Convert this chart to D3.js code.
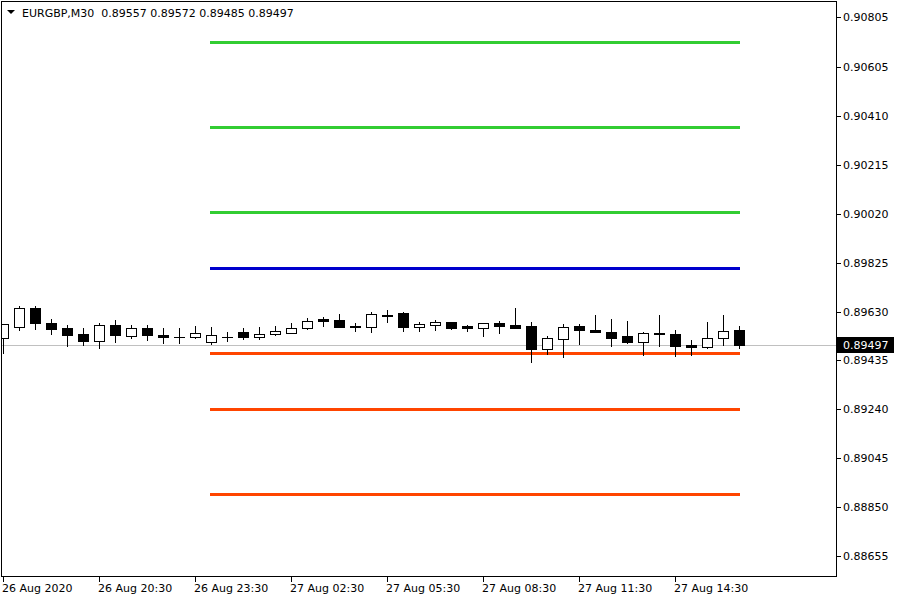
<!DOCTYPE html>
<html>
<head>
<meta charset="utf-8">
<script src="https://cdn.jsdelivr.net/npm/d3@7"></script>
<style>
  html, body { margin: 0; padding: 0; background: #ffffff; }
  svg { display: block; }
  text { font-family: "DejaVu Sans", sans-serif; font-size: 11px; fill: #000; }
</style>
</head>
<body>
<svg id="chart" width="900" height="600"></svg>
<script>
// ---------- data ----------
const symbol = "EURGBP,M30";
const lastOHLC = ["0.89557", "0.89572", "0.89485", "0.89497"];
// bars: 26 Aug 17:30 ... 27 Aug 16:30 (M30)
const opens  = [0.89523,0.89570,0.89646,0.89585,0.89563,0.89539,0.89514,0.89578,0.89532,0.89563,
                0.89538,0.89530,0.89528,0.89508,0.89528,0.89550,0.89528,0.89542,0.89546,0.89566,
                0.89600,0.89595,0.89574,0.89568,0.89615,0.89623,0.89570,0.89578,0.89587,0.89571,
                0.89566,0.89583,0.89575,0.89571,0.89480,0.89522,0.89571,0.89556,0.89550,0.89531,
                0.89508,0.89546,0.89542,0.89496,0.89488,0.89526,0.89557];
const highs  = [0.89579,0.89651,0.89651,0.89599,0.89575,0.89563,0.89586,0.89595,0.89578,0.89578,
                0.89563,0.89563,0.89571,0.89567,0.89550,0.89563,0.89570,0.89574,0.89586,0.89606,
                0.89610,0.89622,0.89586,0.89630,0.89635,0.89627,0.89587,0.89595,0.89587,0.89578,
                0.89583,0.89591,0.89643,0.89587,0.89534,0.89579,0.89579,0.89615,0.89599,0.89591,
                0.89550,0.89615,0.89556,0.89516,0.89587,0.89615,0.89572];
const lows   = [0.89463,0.89555,0.89562,0.89540,0.89492,0.89496,0.89486,0.89508,0.89524,0.89516,
                0.89504,0.89504,0.89524,0.89500,0.89512,0.89520,0.89520,0.89538,0.89546,0.89560,
                0.89574,0.89568,0.89552,0.89548,0.89590,0.89552,0.89552,0.89556,0.89560,0.89552,
                0.89532,0.89544,0.89564,0.89428,0.89459,0.89448,0.89500,0.89550,0.89492,0.89504,
                0.89456,0.89492,0.89452,0.89456,0.89484,0.89496,0.89485];
const closes = [0.89579,0.89646,0.89584,0.89560,0.89536,0.89512,0.89578,0.89536,0.89563,0.89536,
                0.89528,0.89530,0.89546,0.89538,0.89528,0.89528,0.89542,0.89551,0.89566,0.89594,
                0.89594,0.89568,0.89570,0.89622,0.89611,0.89568,0.89579,0.89587,0.89564,0.89564,
                0.89583,0.89572,0.89564,0.89480,0.89523,0.89570,0.89556,0.89550,0.89524,0.89508,
                0.89546,0.89540,0.89492,0.89488,0.89526,0.89554,0.89497];
const currentPrice = 0.89497;
// daily levels, drawn from bar 13 (27 Aug 00:00) to last bar
const levelStartIndex = 13;
const resistanceLevels = [0.90705, 0.90366, 0.90027];
const pivotLevel = [0.89804];
const supportLevels = [0.89465, 0.89241, 0.88902];
// axis labels
const priceTicks = ["0.90805","0.90605","0.90410","0.90215","0.90020","0.89825",
                    "0.89630","0.89435","0.89240","0.89045","0.88850","0.88655"];
const timeTickIndex = [0, 6, 12, 18, 24, 30, 36, 42];
const timeTickLabels = ["26 Aug 2020","26 Aug 20:30","26 Aug 23:30","27 Aug 02:30",
                        "27 Aug 05:30","27 Aug 08:30","27 Aug 11:30","27 Aug 14:30"];

// ---------- layout ----------
const W = 900, H = 600;
const plot = { left: 1, top: 1, right: 836, bottom: 576 };
const svg = d3.select("#chart");
svg.append("rect").attr("width", W).attr("height", H).attr("fill", "#fff");

const n = opens.length;
const x = d3.scaleLinear().domain([0, n - 1]).range([3, 3 + 16 * (n - 1)]);
const y = d3.scaleLinear().domain([0.885712, 0.908648]).range([577, 2]);
const px = v => Math.round(v) + 0.5;

svg.append("clipPath").attr("id", "clip").append("rect")
  .attr("x", plot.left + 1).attr("y", plot.top + 1)
  .attr("width", plot.right - plot.left - 1).attr("height", plot.bottom - plot.top - 1);

const g = svg.append("g").attr("clip-path", "url(#clip)");

// current price line
g.append("line")
  .attr("x1", plot.left).attr("x2", plot.right)
  .attr("y1", px(y(currentPrice))).attr("y2", px(y(currentPrice)))
  .attr("stroke", "#c0c0c0").attr("stroke-width", 1)
  .attr("shape-rendering", "crispEdges");

// level lines
function drawLevels(vals, color) {
  g.selectAll(null).data(vals).enter().append("line")
    .attr("x1", Math.round(x(levelStartIndex)) - 1).attr("x2", Math.round(x(n - 1)) + 1)
    .attr("y1", d => px(y(d))).attr("y2", d => px(y(d)))
    .attr("stroke", color).attr("stroke-width", 3)
    .attr("shape-rendering", "crispEdges");
}
drawLevels(resistanceLevels, "#32cd32");
drawLevels(pivotLevel, "#0000cd");
drawLevels(supportLevels, "#ff4500");

// candles
const bars = d3.range(n).map(i => ({ i, o: opens[i], h: highs[i], l: lows[i], c: closes[i] }));
const cg = g.selectAll("g.bar").data(bars).enter().append("g").attr("class", "bar")
  .attr("shape-rendering", "crispEdges");
cg.append("line")
  .attr("x1", d => px(x(d.i))).attr("x2", d => px(x(d.i)))
  .attr("y1", d => Math.round(y(d.h))).attr("y2", d => Math.round(y(d.l)) + 1)
  .attr("stroke", "#000").attr("stroke-width", 1);
cg.each(function (d) {
  const sel = d3.select(this);
  const top = Math.round(y(Math.max(d.o, d.c)));
  const bot = Math.round(y(Math.min(d.o, d.c)));
  const cx = Math.round(x(d.i));
  if (bot - top < 1) {
    sel.append("line")
      .attr("x1", cx - 5).attr("x2", cx + 6)
      .attr("y1", top + 0.5).attr("y2", top + 0.5)
      .attr("stroke", "#000").attr("stroke-width", 1);
  } else {
    sel.append("rect")
      .attr("x", cx - 4.5).attr("y", top + 0.5)
      .attr("width", 10).attr("height", bot - top)
      .attr("fill", d.c >= d.o ? "#fff" : "#000")
      .attr("stroke", "#000").attr("stroke-width", 1);
  }
});

// frame
svg.append("rect")
  .attr("x", plot.left + 0.5).attr("y", plot.top + 0.5)
  .attr("width", plot.right - plot.left).attr("height", plot.bottom - plot.top)
  .attr("fill", "none").attr("stroke", "#000").attr("stroke-width", 1)
  .attr("shape-rendering", "crispEdges");

// price axis
const pa = svg.append("g");
priceTicks.forEach(t => {
  const yy = Math.round(y(+t));
  pa.append("line").attr("x1", plot.right + 1).attr("x2", plot.right + 5)
    .attr("y1", yy + 0.5).attr("y2", yy + 0.5)
    .attr("stroke", "#000").attr("shape-rendering", "crispEdges");
  pa.append("text").attr("x", 843).attr("y", yy + 4).text(t);
});
// current price label
const cy = Math.round(y(currentPrice));
pa.append("rect").attr("x", plot.right + 1).attr("y", cy - 8)
  .attr("width", 57).attr("height", 16).attr("fill", "#000");
pa.append("text").attr("x", 843).attr("y", cy + 4).style("fill", "#fff")
  .text(currentPrice.toFixed(5));

// time axis
const ta = svg.append("g");
timeTickIndex.forEach((idx, k) => {
  const xx = Math.round(x(idx));
  ta.append("line").attr("x1", xx + 0.5).attr("x2", xx + 0.5)
    .attr("y1", plot.bottom + 1).attr("y2", plot.bottom + 6)
    .attr("stroke", "#000").attr("shape-rendering", "crispEdges");
  ta.append("text").attr("x", xx - 1).attr("y", 592).text(timeTickLabels[k]);
});

// header
svg.append("path").attr("d", "M7,10 L15,10 L11,14 Z").attr("fill", "#000");
svg.append("text").attr("x", 22).attr("y", 17)
  .text(symbol + "  " + lastOHLC.join(" ")).attr("xml:space", "preserve")
  .style("white-space", "pre");
</script>
</body>
</html>
